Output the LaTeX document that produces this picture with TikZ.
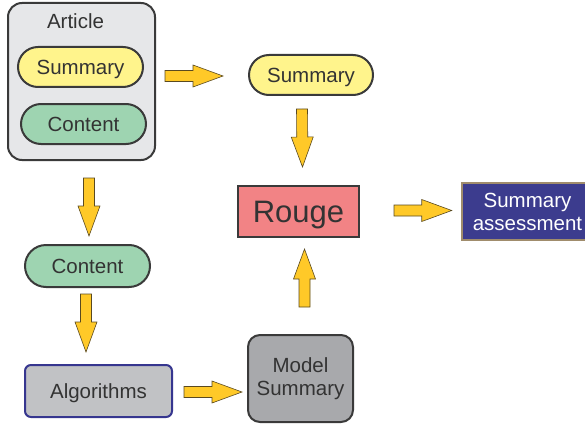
\documentclass[tikz,border=0pt]{standalone}
\usepackage{fontspec}
\setmainfont{Liberation Sans}
\usetikzlibrary{calc}
\definecolor{txt}{HTML}{333333}
\definecolor{edge}{HTML}{3A3A3A}
\definecolor{artfill}{HTML}{E6E7E9}
\definecolor{sumfill}{HTML}{FFF48C}
\definecolor{contfill}{HTML}{9ED4B1}
\definecolor{rougefill}{HTML}{F28385}
\definecolor{assfill}{HTML}{3C3C8E}
\definecolor{assedge}{HTML}{A08C6C}
\definecolor{algfill}{HTML}{C1C2C5}
\definecolor{algedge}{HTML}{36368F}
\definecolor{modfill}{HTML}{A8A9AC}
\definecolor{arrfill}{HTML}{FFC928}
\definecolor{arredge}{HTML}{5A4A20}
\tikzset{
  base/.style={inner sep=0pt, align=center, text=txt, line width=2pt, font=\fontsize{20.5}{23}\selectfont},
  oneline/.style={base, text height=14.7pt, text depth=0pt},
  capsule/.style={oneline, draw=edge, rounded corners=20pt},
  blockarrow/.style={fill=arrfill, draw=arredge, line width=0.6pt, line join=miter}
}
\newcommand\blockarr[2]{%
  \coordinate (bs) at (#1);
  \coordinate (be) at (#2);
  \coordinate (bh) at ($(be)!30pt!(bs)$);
  \draw[blockarrow] ($(bs)!5.5pt!90:(be)$) -- ($(bh)!5.5pt!90:(be)$) -- ($(bh)!11pt!90:(be)$) -- (be)
    -- ($(bh)!11pt!-90:(be)$) -- ($(bh)!5.5pt!-90:(be)$) -- ($(bs)!5.5pt!-90:(be)$) -- cycle;}
\begin{document}
\begin{tikzpicture}[x=1pt, y=-1pt]
\useasboundingbox (0,0) rectangle (585,425);
% article
\node[base, draw=edge, fill=artfill, rounded corners=14pt, minimum width=147pt, minimum height=157pt] (art) at (81.5,81.5) {};
\node[oneline] (artlab) at (75.5,21.5) {Article};
\node[capsule, fill=sumfill, minimum width=125pt, minimum height=40pt] (sum1) at (80.5,67) {Summary};
\node[capsule, fill=contfill, minimum width=125pt, minimum height=40pt] (cont1) at (83.5,124) {Content};
% right column
\node[capsule, fill=sumfill, minimum width=124pt, minimum height=40pt] (sum2) at (311,75) {Summary};
\node[base, draw=edge, fill=rougefill, minimum width=121pt, minimum height=51pt, font=\fontsize{31}{35}\selectfont, text height=22.2pt, text depth=0pt] (rouge) at (298.5,211.5) {Rouge};
\node[base, draw=assedge, line width=2.5pt, fill=assfill, text=white, minimum width=131pt, minimum height=57pt] (assess) at (527.5,211.5) {Summary\\assessment};
% lower
\node[capsule, fill=contfill, minimum width=125pt, minimum height=42pt, rounded corners=21pt] (cont2) at (87.5,266) {Content};
\node[oneline, draw=algedge, fill=algfill, rounded corners=6pt, minimum width=147pt, minimum height=52pt] (alg) at (98.5,391) {Algorithms};
\node[base, draw=edge, fill=modfill, rounded corners=12pt, minimum width=105pt, minimum height=87pt] (model) at (300.5,378.5) {Model\\Summary};
% arrows
\blockarr{$(art.east |- sum2.west)+(9,1)$}{$(sum2.west)+(-25,1)$}
\blockarr{$(sum2.south)+(-9,13)$}{$(rouge.north)+(4,-18)$}
\blockarr{$(rouge.east)+(34,-1)$}{$(assess.west)+(-9,-1)$}
\blockarr{$(model.north)+(4,-27)$}{$(rouge.south)+(6,11)$}
\blockarr{$(art.south)+(7.5,17)$}{$(cont2.north)+(1.5,-8)$}
\blockarr{$(cont2.south)+(-1.5,6)$}{$(alg.north)+(-12.5,-12)$}
\blockarr{$(alg.east)+(11,1)$}{$(model.west |- alg.east)+(-5,1)$}
\end{tikzpicture}
\end{document}
